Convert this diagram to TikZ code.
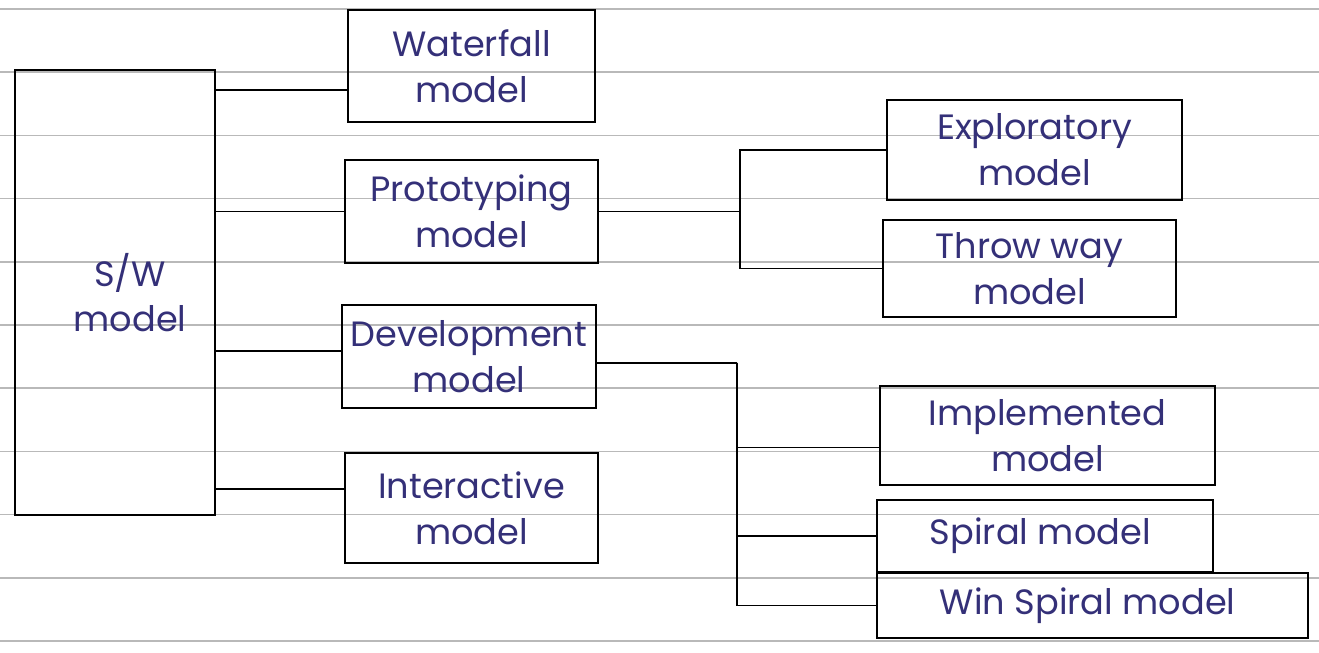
\documentclass[tikz,border=0pt]{standalone}
\usepackage{fontspec}
\setmainfont{Poppins}
\usetikzlibrary{positioning}
\usetikzlibrary{calc}
\definecolor{ink}{RGB}{52,48,120}
\definecolor{paperline}{RGB}{185,185,185}

\begin{document}
\begin{tikzpicture}
			\tikzset{modelbox/.style = {shape=rectangle, draw, line width=1.4pt, align=center, inner sep=2pt,
					text=ink, font=\fontsize{20}{26}\selectfont}}
			\tikzset{link/.style = {line width=1.1pt}}
			
			\useasboundingbox (0,0) rectangle (26.38,-13.06);
			
			% ruled paper
			\foreach \k in {0,...,10}
				\draw[paperline, line width=0.8pt] (0,-0.18-1.264*\k) -- (26.38,-0.18-1.264*\k);
			
			% root
			\node[modelbox, minimum width=4.0cm, minimum height=8.9cm] (SW) at (2.30,-5.85)
			{ \hspace*{0.6cm}S/W \\ \hspace*{0.6cm}model };
			
			% first level
			\node[modelbox, minimum width=4.94cm, minimum height=2.24cm] (WATERFALL) at (9.43,-1.32)
			{ Waterfall \\ model };
			\node[modelbox, minimum width=5.06cm, minimum height=2.06cm] (PROTO) at (9.43,-4.23)
			{ Prototyping \\ model };
			\node[modelbox, minimum width=5.08cm, minimum height=2.06cm] (DEVEL) at (9.38,-7.13)
			{ Development \\ model };
			\node[modelbox, minimum width=5.06cm, minimum height=2.20cm] (INTER) at (9.43,-10.16)
			{ Interactive \\ model };
			
			% second level
			\node[modelbox, minimum width=5.90cm, minimum height=2.00cm] (EXPLOR) at (20.69,-3.00)
			{ Exploratory \\ model };
			\node[modelbox, minimum width=5.86cm, minimum height=1.94cm] (THROW) at (20.59,-5.37)
			{ Throw way \\ model };
			\node[modelbox, minimum width=6.70cm, minimum height=1.98cm] (IMPLEM) at (20.95,-8.71)
			{ Implemented \\ model };
			\node[modelbox, minimum width=6.72cm, minimum height=1.44cm] (SPIRAL) at (20.90,-10.72)
			{ Spiral model };
			\node[modelbox, minimum width=8.62cm, minimum height=1.30cm] (WINSPIRAL) at (21.85,-12.11)
			{ Win Spiral model };
			
			% links from root
			\coordinate (WFIN) at ([yshift=-0.48cm]WATERFALL.west);
			\coordinate (INTIN) at ([yshift=0.38cm]INTER.west);
			\coordinate (DEVIN) at ([yshift=0.11cm]DEVEL.west);
			\draw[link] (WFIN -| SW.east) -- (WFIN);
			\draw[link] (PROTO.west -| SW.east) -- (PROTO.west);
			\draw[link] (DEVIN -| SW.east) -- (DEVIN);
			\draw[link] (INTIN -| SW.east) -- (INTIN);
			
			% prototyping branch
			\coordinate (PBUS) at (14.80,-4.23);
			\draw[link] (PROTO.east) -- (PBUS);
			\draw[link] (EXPLOR.west) -| (PBUS) |- (THROW.west);
			
			% development branch
			\coordinate (DEVOUT) at ([yshift=-0.13cm]DEVEL.east);
			\coordinate (DBUS) at (14.74,-7.26);
			\coordinate (IMPIN) at ([yshift=-0.24cm]IMPLEM.west);
			\draw[link] (DEVOUT) -- (DBUS);
			\draw[link] (DBUS) |- (WINSPIRAL.west);
			\draw[link] (IMPIN -| DBUS) -- (IMPIN);
			\draw[link] (SPIRAL.west -| DBUS) -- (SPIRAL.west);
			
			\end{tikzpicture}
\end{document}
